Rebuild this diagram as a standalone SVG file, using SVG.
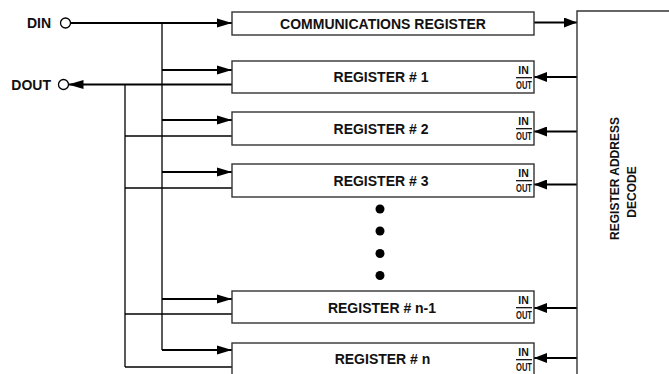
<svg xmlns="http://www.w3.org/2000/svg" width="669" height="374" viewBox="0 0 669 374">
<style>
text{font-family:"Liberation Sans",Arial,sans-serif;font-weight:bold;fill:#111}
.lbl{font-size:14px;text-anchor:middle}
.pin{font-size:14px;text-anchor:end}
.io{font-size:10.5px;text-anchor:middle}
.box{fill:#fff;stroke:#333;stroke-width:1.4}
.thick{stroke:#000;stroke-width:2;fill:none}
.thin{stroke:#000;stroke-width:1.3;fill:none}
.dot{fill:#000}
</style>
<defs>
<marker id="ah" markerUnits="userSpaceOnUse" markerWidth="15" markerHeight="10" refX="15" refY="5" orient="auto">
<path d="M0,0.5 L15,5 L0,9.5 z" fill="#000"/>
</marker>
<marker id="ahs" markerUnits="userSpaceOnUse" markerWidth="13" markerHeight="10" refX="13" refY="5" orient="auto">
<path d="M0,0 L13,5 L0,10 z" fill="#000"/>
</marker>
</defs>

<g id="connectors">
<line class="thick" x1="70.5" y1="23" x2="232" y2="23" marker-end="url(#ah)"/>
<line class="thin" x1="162" y1="23" x2="162" y2="350"/>
<line class="thick" x1="162" y1="70" x2="232" y2="70" marker-end="url(#ah)"/>
<line class="thick" x1="162" y1="120" x2="232" y2="120" marker-end="url(#ah)"/>
<line class="thick" x1="162" y1="172" x2="232" y2="172" marker-end="url(#ah)"/>
<line class="thick" x1="162" y1="299" x2="232" y2="299" marker-end="url(#ah)"/>
<line class="thick" x1="162" y1="350" x2="232" y2="350" marker-end="url(#ah)"/>
<line class="thick" x1="232" y1="84.5" x2="68.5" y2="84.5" marker-end="url(#ah)"/>
<line class="thin" x1="125" y1="84.5" x2="125" y2="367"/>
<line class="thin" x1="125" y1="136" x2="232" y2="136"/>
<line class="thin" x1="125" y1="188" x2="232" y2="188"/>
<line class="thin" x1="125" y1="314" x2="232" y2="314"/>
<line class="thin" x1="125" y1="367" x2="232" y2="367"/>
<line class="thick" x1="534" y1="22.5" x2="577" y2="22.5" marker-end="url(#ahs)"/>
<line class="thick" x1="577" y1="77" x2="534" y2="77" marker-end="url(#ahs)"/>
<line class="thick" x1="577" y1="131.5" x2="534" y2="131.5" marker-end="url(#ahs)"/>
<line class="thick" x1="577" y1="184.5" x2="534" y2="184.5" marker-end="url(#ahs)"/>
<line class="thick" x1="577" y1="308" x2="534" y2="308" marker-end="url(#ahs)"/>
<line class="thick" x1="577" y1="358" x2="534" y2="358" marker-end="url(#ahs)"/>
</g>

<g id="din">
<circle cx="65.5" cy="23" r="5" fill="#fff" stroke="#000" stroke-width="1.3"/>
<text class="pin" x="51" y="28">DIN</text>
</g>
<g id="dout">
<circle cx="63.5" cy="84.5" r="5" fill="#fff" stroke="#000" stroke-width="1.3"/>
<text class="pin" x="51" y="89.5">DOUT</text>
</g>

<g id="comm">
<rect class="box" x="232" y="12" width="302" height="23"/>
<text class="lbl" x="383" y="28.5">COMMUNICATIONS REGISTER</text>
</g>

<g id="reg1">
<rect class="box" x="232" y="61" width="302" height="32"/>
<text class="lbl" x="381" y="82">REGISTER # 1</text>
<text class="io" x="523.5" y="74">IN</text>
<line x1="516" y1="77.7" x2="532" y2="77.7" stroke="#000" stroke-width="1.2"/>
<text class="io" x="524" y="89.3" textLength="16" lengthAdjust="spacingAndGlyphs">OUT</text>
</g>
<g id="reg2">
<rect class="box" x="232" y="112" width="302" height="33"/>
<text class="lbl" x="381" y="133.5">REGISTER # 2</text>
<text class="io" x="523.5" y="125">IN</text>
<line x1="516" y1="128.7" x2="532" y2="128.7" stroke="#000" stroke-width="1.2"/>
<text class="io" x="524" y="140.4" textLength="16" lengthAdjust="spacingAndGlyphs">OUT</text>
</g>
<g id="reg3">
<rect class="box" x="232" y="164" width="302" height="33"/>
<text class="lbl" x="381" y="185.5">REGISTER # 3</text>
<text class="io" x="523.5" y="177">IN</text>
<line x1="516" y1="180.7" x2="532" y2="180.7" stroke="#000" stroke-width="1.2"/>
<text class="io" x="524" y="192.3" textLength="16" lengthAdjust="spacingAndGlyphs">OUT</text>
</g>
<g id="dots">
<circle class="dot" cx="380" cy="209" r="4.5"/>
<circle class="dot" cx="380" cy="231" r="4.5"/>
<circle class="dot" cx="380" cy="253.5" r="4.5"/>
<circle class="dot" cx="380" cy="275.5" r="4.5"/>
</g>
<g id="regn1">
<rect class="box" x="232" y="291" width="302" height="32"/>
<text class="lbl" x="382" y="313">REGISTER # n-1</text>
<text class="io" x="523.5" y="304">IN</text>
<line x1="516" y1="307.7" x2="532" y2="307.7" stroke="#000" stroke-width="1.2"/>
<text class="io" x="524" y="319.3" textLength="16" lengthAdjust="spacingAndGlyphs">OUT</text>
</g>
<g id="regn">
<rect class="box" x="232" y="343" width="302" height="33"/>
<text class="lbl" x="382.5" y="364">REGISTER # n</text>
<text class="io" x="523.5" y="356">IN</text>
<line x1="516" y1="359.7" x2="532" y2="359.7" stroke="#000" stroke-width="1.2"/>
<text class="io" x="524" y="371.3" textLength="16" lengthAdjust="spacingAndGlyphs">OUT</text>
</g>

<g id="decode">
<path d="M670,11 H577 V376" fill="#fff" stroke="#333" stroke-width="1.4"/>
<text class="lbl" transform="translate(618.5,178.5) rotate(-90)" style="font-size:12px">REGISTER ADDRESS</text>
<text class="lbl" transform="translate(635.5,192) rotate(-90)" style="font-size:12px">DECODE</text>
</g>
</svg>
